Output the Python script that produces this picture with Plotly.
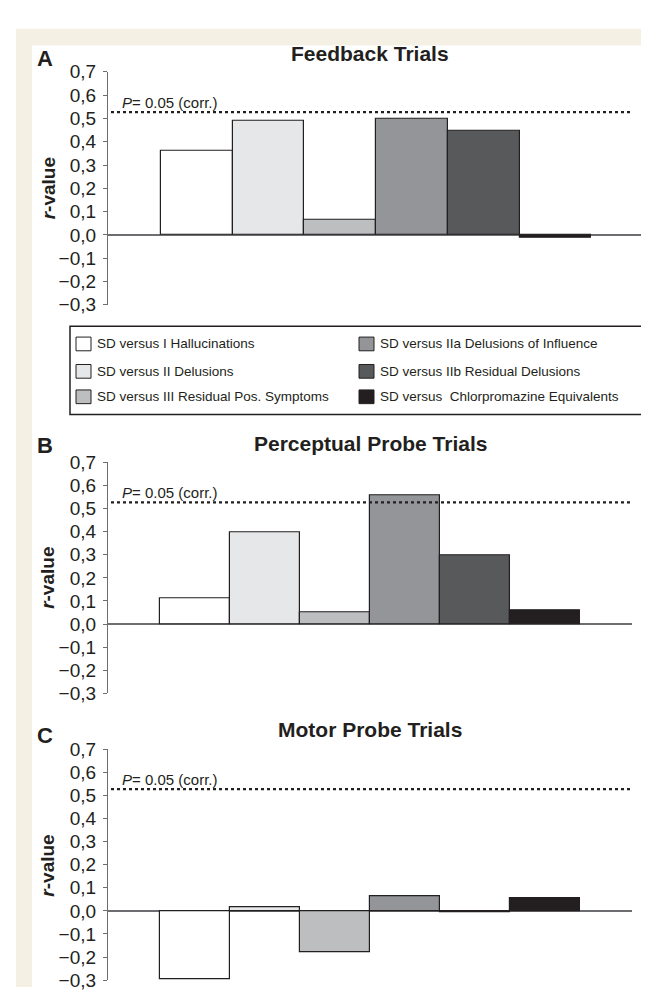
import plotly.graph_objects as go

# ---------------- data ----------------
categories = ["I Hallucinations", "II Delusions", "III Residual Pos. Symptoms",
              "IIa Delusions of Influence", "IIb Residual Delusions",
              "Chlorpromazine Equivalents"]
legend_labels = ["SD versus I Hallucinations", "SD versus II Delusions",
                 "SD versus III Residual Pos. Symptoms",
                 "SD versus IIa Delusions of Influence",
                 "SD versus IIb Residual Delusions",
                 "SD versus \u00a0Chlorpromazine Equivalents"]
feedback = [0.36, 0.49, 0.065, 0.50, 0.445, -0.012]
perceptual = [0.11, 0.395, 0.05, 0.555, 0.297, 0.06]
motor = [-0.295, 0.018, -0.18, 0.065, -0.006, 0.056]
threshold = 0.527
threshold_label = "<i>P</i>= 0.05 (corr.)"
panel_titles = ["Feedback Trials", "Perceptual Probe Trials", "Motor Probe Trials"]
panel_letters = ["A", "B", "C"]
tick_vals = [0.7, 0.6, 0.5, 0.4, 0.3, 0.2, 0.1, 0.0, -0.1, -0.2, -0.3]
tick_text = ["0,7", "0,6", "0,5", "0,4", "0,3", "0,2", "0,1", "0,0",
             "\u22120,1", "\u22120,2", "\u22120,3"]

# ---------------- styling ----------------
colors = ["#ffffff", "#e6e7e8", "#bcbec0", "#939598", "#58595b", "#231f20"]
W, H = 649, 990
INK = "#231f20"
AXIS = "#6d6e71"
CREAM = "#f4f1e4"
FONT = "Liberation Sans, Arial, sans-serif"


def fx(px):
    return px / W


def fy(py):
    return 1 - py / H


panels = [
    dict(x0=100, x1=637, yt=55, yb=293, title_y=36, letter_y=41, ylab_y=174),
    dict(x0=100, x1=624, yt=454, yb=690, title_y=435, letter_y=437, ylab_y=572),
    dict(x0=100, x1=624, yt=747, yb=983, title_y=727, letter_y=733, ylab_y=866),
]
series = [feedback, perceptual, motor]

fig = go.Figure()
shapes = [
    dict(type="rect", xref="paper", yref="paper", x0=fx(8), x1=1, y0=0, y1=fy(11),
         fillcolor=CREAM, line=dict(width=0), layer="below"),
    dict(type="rect", xref="paper", yref="paper", x0=fx(24), x1=fx(643), y0=0, y1=fy(28),
         fillcolor="white", line=dict(width=0), layer="below"),
]
annotations = []
layout_axes = {}

for i, (p, vals) in enumerate(zip(panels, series)):
    n = "" if i == 0 else str(i + 1)
    xa, ya = "x" + n, "y" + n
    fig.add_trace(go.Bar(
        x=list(range(len(categories))), y=vals, width=1,
        marker=dict(color=colors, line=dict(color=INK, width=1.2)),
        xaxis=xa, yaxis=ya, showlegend=False,
        hovertext=categories, name=panel_titles[i]))
    layout_axes["xaxis" + n] = dict(
        domain=[fx(p["x0"]), fx(p["x1"])], range=[-1.24, 6.25],
        visible=False, anchor=ya, fixedrange=True)
    layout_axes["yaxis" + n] = dict(
        domain=[fy(p["yb"]), fy(p["yt"])], range=[-0.3, 0.7], anchor=xa,
        tickmode="array", tickvals=tick_vals, ticktext=tick_text,
        ticks="outside", ticklen=4, tickcolor=AXIS, tickwidth=1,
        showline=True, linecolor=AXIS, linewidth=1.2,
        showgrid=False, zeroline=True, zerolinecolor=AXIS, zerolinewidth=1.5,
        tickfont=dict(family=FONT, size=19, color=INK), ticklabelstandoff=3,
        fixedrange=True)
    span = p["x1"] - p["x0"]
    shapes.append(dict(type="line", xref=xa + " domain", yref=ya,
                       x0=(103 - p["x0"]) / span, x1=(622 - p["x0"]) / span,
                       y0=threshold, y1=threshold,
                       line=dict(color=INK, width=2.2, dash="dot")))
    annotations.append(dict(xref=xa + " domain", yref=ya, x=(112 - p["x0"]) / span,
                            y=threshold, yshift=10, xanchor="left", yanchor="middle",
                            text=threshold_label, showarrow=False,
                            font=dict(family=FONT, size=15, color=INK)))
    annotations.append(dict(xref="paper", yref="paper", x=fx(362), y=fy(p["title_y"]),
                            xanchor="center", yanchor="middle",
                            text="<b>" + panel_titles[i] + "</b>", showarrow=False,
                            font=dict(family=FONT, size=21, color=INK)))
    annotations.append(dict(xref="paper", yref="paper", x=fx(37), y=fy(p["letter_y"]),
                            xanchor="center", yanchor="middle",
                            text="<b>" + panel_letters[i] + "</b>", showarrow=False,
                            font=dict(family=FONT, size=22, color=INK)))
    annotations.append(dict(xref="paper", yref="paper", x=fx(40), y=fy(p["ylab_y"]),
                            xanchor="center", yanchor="middle", textangle=-90,
                            text="<b><i>r</i>-value</b>", showarrow=False,
                            font=dict(family=FONT, size=19, color=INK)))

# ---------------- legend box (two columns) ----------------
shapes.append(dict(type="rect", xref="paper", yref="paper", x0=fx(62), x1=fx(636),
                   y0=fy(405), y1=fy(315), line=dict(color=INK, width=1.5),
                   fillcolor="rgba(0,0,0,0)"))
row_y = [333, 361, 387]
col_x = [68, 351]
for k, (lab, col) in enumerate(zip(legend_labels, colors)):
    c, r = k // 3, k % 3
    sx, sy = col_x[c], row_y[r]
    shapes.append(dict(type="rect", xref="paper", yref="paper",
                       x0=fx(sx), x1=fx(sx + 15), y0=fy(sy + 7), y1=fy(sy - 7),
                       fillcolor=col, line=dict(color=INK, width=1)))
    annotations.append(dict(xref="paper", yref="paper", x=fx(sx + 19), y=fy(sy),
                            xanchor="left", yanchor="middle", text=lab, showarrow=False,
                            font=dict(family=FONT, size=13.5, color=INK)))

fig.update_layout(
    width=W, height=H, margin=dict(l=0, r=0, t=0, b=0),
    paper_bgcolor="white", plot_bgcolor="rgba(0,0,0,0)",
    bargap=0, shapes=shapes, annotations=annotations,
    font=dict(family=FONT, color=INK), **layout_axes)

fig.write_html("out.html")
